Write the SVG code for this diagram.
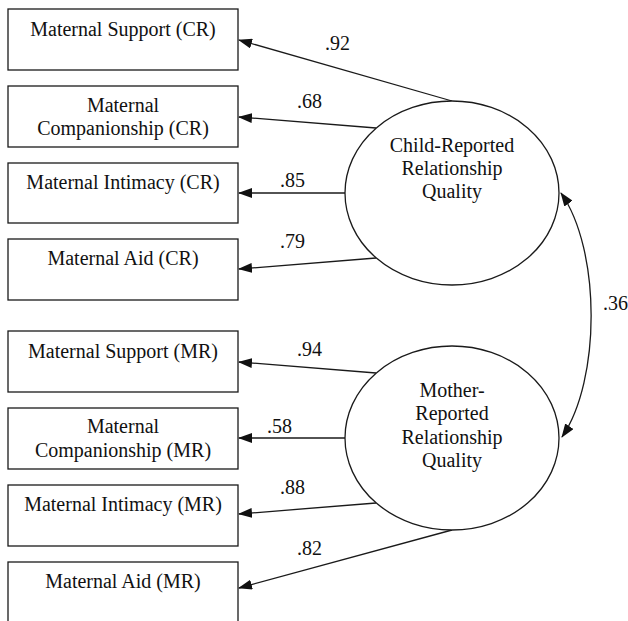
<svg xmlns="http://www.w3.org/2000/svg" width="628" height="621" viewBox="0 0 628 621">
<style>
.box{fill:#fff;stroke:#1a1a1a;stroke-width:1.3}
.lat{fill:#fff;stroke:#1a1a1a;stroke-width:1.3}
.t{font-family:'Liberation Serif','Times New Roman','DejaVu Serif',Times,serif;font-size:20px;fill:#111;text-anchor:middle}
.lbl{font-family:'Liberation Serif','Times New Roman','DejaVu Serif',Times,serif;font-size:20px;fill:#111}
.c{fill:none;stroke:#1a1a1a;stroke-width:1.3}
</style>
<defs>
<marker id="ah" markerUnits="userSpaceOnUse" markerWidth="14" markerHeight="10" viewBox="0 0 14 10" refX="13" refY="5" orient="auto-start-reverse">
<path d="M0,0 L14,5 L0,10 Z" fill="#111"/>
</marker>
</defs>
<rect width="628" height="621" fill="#fff"/>
<g id="connectors">
<line class="c" x1="452" y1="101" x2="239" y2="40" marker-end="url(#ah)"/>
<line class="c" x1="376" y1="128" x2="239" y2="117" marker-end="url(#ah)"/>
<line class="c" x1="345" y1="193" x2="239" y2="193" marker-end="url(#ah)"/>
<line class="c" x1="376" y1="258" x2="239" y2="269" marker-end="url(#ah)"/>
<line class="c" x1="376" y1="373" x2="239" y2="362" marker-end="url(#ah)"/>
<line class="c" x1="345" y1="438" x2="239" y2="438" marker-end="url(#ah)"/>
<line class="c" x1="376" y1="503" x2="239" y2="514" marker-end="url(#ah)"/>
<line class="c" x1="452" y1="530" x2="239" y2="588" marker-end="url(#ah)"/>
<path class="c" d="M561,193 C601,250 601,380 562,437" marker-start="url(#ah)" marker-end="url(#ah)"/>
<text class="lbl" x="325" y="50">.92</text>
<text class="lbl" x="297" y="108">.68</text>
<text class="lbl" x="280" y="187">.85</text>
<text class="lbl" x="280" y="248">.79</text>
<text class="lbl" x="297" y="356">.94</text>
<text class="lbl" x="267" y="433">.58</text>
<text class="lbl" x="280" y="494">.88</text>
<text class="lbl" x="297" y="555">.82</text>
<text class="lbl" x="603" y="310">.36</text>
</g>
<g id="cr-support"><rect class="box" x="8" y="9" width="230" height="61"/><text class="t" x="123" y="36">Maternal Support (CR)</text></g>
<g id="cr-companionship"><rect class="box" x="8" y="86" width="230" height="61"/><text class="t" x="123" y="112">Maternal</text><text class="t" x="123" y="135">Companionship (CR)</text></g>
<g id="cr-intimacy"><rect class="box" x="8" y="163" width="230" height="60"/><text class="t" x="123" y="189">Maternal Intimacy (CR)</text></g>
<g id="cr-aid"><rect class="box" x="8" y="239" width="230" height="61"/><text class="t" x="123" y="265">Maternal Aid (CR)</text></g>
<g id="mr-support"><rect class="box" x="8" y="331" width="230" height="61"/><text class="t" x="123" y="358">Maternal Support (MR)</text></g>
<g id="mr-companionship"><rect class="box" x="8" y="408" width="230" height="61"/><text class="t" x="123" y="433">Maternal</text><text class="t" x="123" y="457">Companionship (MR)</text></g>
<g id="mr-intimacy"><rect class="box" x="8" y="485" width="230" height="61"/><text class="t" x="123" y="511">Maternal Intimacy (MR)</text></g>
<g id="mr-aid"><rect class="box" x="8" y="562" width="230" height="80"/><text class="t" x="123" y="588">Maternal Aid (MR)</text></g>
<g id="child-reported"><ellipse class="lat" cx="452" cy="193" rx="107" ry="92"/><text class="t" x="452" y="152">Child-Reported</text><text class="t" x="452" y="175">Relationship</text><text class="t" x="452" y="198">Quality</text></g>
<g id="mother-reported"><ellipse class="lat" cx="452" cy="438" rx="107" ry="92"/><text class="t" x="452" y="397">Mother-</text><text class="t" x="452" y="420">Reported</text><text class="t" x="452" y="444">Relationship</text><text class="t" x="452" y="467">Quality</text></g>
</svg>
